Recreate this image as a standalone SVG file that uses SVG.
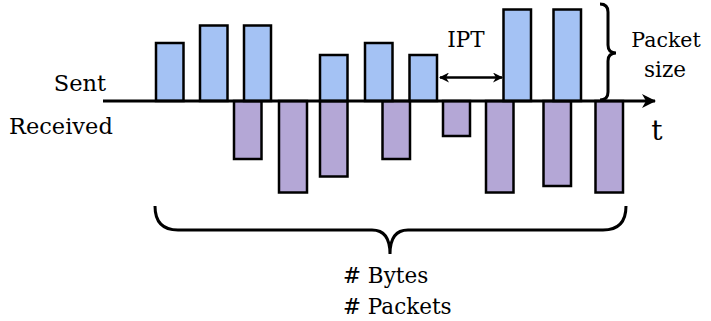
<svg xmlns="http://www.w3.org/2000/svg" width="711" height="321" viewBox="0 0 711 321">
<style>
.sent{fill:#a4c2f4;stroke:#000;stroke-width:2.5}
.recv{fill:#b4a7d6;stroke:#000;stroke-width:2.5}
.lbl{font-family:"DejaVu Serif","Liberation Serif",serif;font-size:21.5px;fill:#000}
.big{font-size:22.5px}
.ln{fill:none;stroke:#000;stroke-width:3}
</style>
<defs>
<marker id="ah" viewBox="0 0 10 10" refX="9" refY="5" markerWidth="10" markerHeight="10" markerUnits="userSpaceOnUse" orient="auto-start-reverse">
<path d="M0,0 L10,5 L0,10 L3,5 Z" fill="#000"/>
</marker>
<marker id="axh" viewBox="0 0 14 14" refX="13" refY="7" markerWidth="14" markerHeight="14" markerUnits="userSpaceOnUse" orient="auto">
<path d="M0,0 L14,7 L0,14 L4,7 Z" fill="#000"/>
</marker>
</defs>
<g id="received">
<rect class="recv" x="234" y="101" width="27.5" height="58"/>
<rect class="recv" x="279" y="101" width="28" height="91.5"/>
<rect class="recv" x="320" y="101" width="27.5" height="75.5"/>
<rect class="recv" x="382.5" y="101" width="27.5" height="58"/>
<rect class="recv" x="443" y="101" width="27" height="35"/>
<rect class="recv" x="486" y="101" width="27.5" height="91.5"/>
<rect class="recv" x="543.5" y="101" width="27.5" height="85"/>
<rect class="recv" x="595.5" y="101" width="27.5" height="91.5"/>
</g>
<g id="sent">
<rect class="sent" x="156" y="43" width="27.5" height="58"/>
<rect class="sent" x="200" y="25.5" width="27.5" height="75.5"/>
<rect class="sent" x="244" y="25.5" width="27" height="75.5"/>
<rect class="sent" x="320" y="55" width="27.5" height="46"/>
<rect class="sent" x="365" y="43" width="27.5" height="58"/>
<rect class="sent" x="409.5" y="55" width="27.5" height="46"/>
<rect class="sent" x="503.5" y="9.5" width="27.5" height="91.5"/>
<rect class="sent" x="553.5" y="9.5" width="27.5" height="91.5"/>
</g>
<g id="connectors">
<line class="ln" x1="103" y1="101" x2="655" y2="101" marker-end="url(#axh)"/>
<line x1="440" y1="77.5" x2="502" y2="77.5" stroke="#000" stroke-width="2.5" marker-start="url(#ah)" marker-end="url(#ah)"/>
<path class="ln" d="M600,4 Q608,4 608,12 L608,45 Q608,53 616,53 Q608,53 608,61 L608,92 Q608,100 600,100"/>
<path class="ln" d="M155,206 Q155,230 178,230 L372,230 Q390,230 390,254 Q390,230 408,230 L603,230 Q626,230 626,206"/>
</g>
<g id="labels">
<text class="lbl big" x="106" y="91" text-anchor="end">Sent</text>
<text class="lbl big" x="9" y="133.5">Received</text>
<text class="lbl" x="466" y="46.5" text-anchor="middle">IPT</text>
<text class="lbl" x="666" y="46.5" text-anchor="middle" style="font-size:20.5px">Packet</text>
<text class="lbl" x="665" y="76.5" text-anchor="middle">size</text>
<text class="lbl" x="657" y="140" text-anchor="middle" style="font-size:28px">t</text>
<text class="lbl" x="343" y="283"># Bytes</text>
<text class="lbl" x="343" y="314"># Packets</text>
</g>
</svg>
